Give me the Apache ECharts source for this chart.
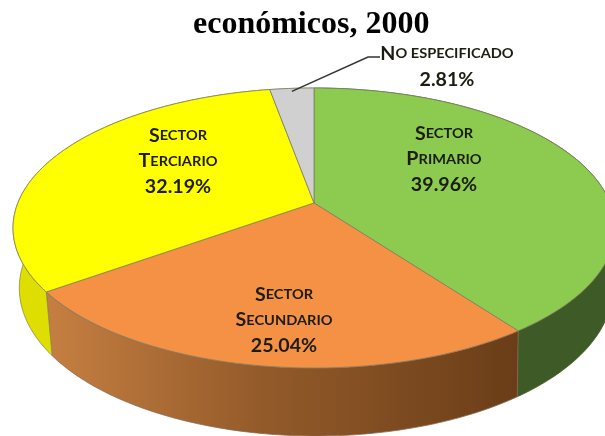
<!DOCTYPE html>
<html><head><meta charset="utf-8">
<style>html,body{margin:0;padding:0;background:#fff}#c{width:605px;height:436px}</style>
<script src="https://cdn.jsdelivr.net/npm/echarts@6/dist/echarts.min.js"></script>
</head><body><div id="c"></div>
<script>
// Data
const categories = ['Sector Primario','Sector Secundario','Sector Terciario','No especificado'];
const shares = [39.96, 25.04, 32.19, 2.81];
const titleText = 'económicos, 2000';

// Styling / layout
const topColors = ['#8CCB50','#F59145','#FFFF00','#D0D0D0'];
const wallColors = ['#3E5B27', null, '#DEDE00', '#A0A0A0'];
const labelAnchors = [[444,133],[284,294],[178,135],[447,53]];
const topRim = {cx:314, cy:228, rx:301, ry:140};
const lowRim = {cx:316, cy:288, rx:296.7, ry:148};
const persp = -0.179; // perspective of the disc

function proj(frac, e){
  const a = frac*2*Math.PI, u = Math.sin(a), v = -Math.cos(a);
  const d = 1 + persp*v;
  return [e.cx + e.rx*u*Math.sqrt(1-persp*persp)/d, e.cy + e.ry*(v+persp)/d];
}
function arc(f0,f1,e){
  const n = Math.max(2,Math.ceil((f1-f0)*240)), pts=[];
  for(let i=0;i<=n;i++) pts.push(proj(f0+(f1-f0)*i/n,e));
  return pts;
}
function smallCaps(t){
  return '{b|'+t[0].toUpperCase()+'}{s|'+t.slice(1).toUpperCase()+'}';
}
const ink = '#1c1c10';
const rich = {
  b:{fontFamily:'Lato',fontWeight:'bold',fontSize:18,fill:ink,color:ink},
  s:{fontFamily:'Lato',fontWeight:'bold',fontSize:13.4,fill:ink,color:ink},
  p:{fontFamily:'Lato',fontWeight:'bold',fontSize:18,fill:ink,color:ink}
};
const total = shares.reduce((s,v)=>s+v,0);
const starts = []; shares.reduce((s,v,i)=>(starts[i]=s,s+v),0);

const chart = echarts.init(document.getElementById('c'),null,{renderer:'canvas'});
chart.setOption({
  animation:false,
  backgroundColor:'#fff',
  title:{text:titleText,left:193,top:9,padding:0,
    textStyle:{fontFamily:'Liberation Serif',fontWeight:'bold',fontSize:32,color:'#000',lineHeight:32}},
  series:[{
    type:'custom',
    coordinateSystem:'none',
    clip:false,
    data:shares.map((v,i)=>({name:categories[i],value:v})),
    renderItem:function(params,api){
      const i = params.dataIndex;
      const f0 = starts[i]/total, f1 = (starts[i]+shares[i])/total;
      const rimT = arc(f0,f1,topRim), rimL = arc(f0,f1,lowRim);
      const apex = [topRim.cx, topRim.cy + topRim.ry*persp];
      const wallFill = i===1 ? {
          type:'linear',x:0,y:0,x2:1,y2:0,
          colorStops:[{offset:0,color:'#C67F42'},{offset:0.45,color:'#945B2A'},{offset:1,color:'#6A3D18'}]
        } : wallColors[i];
      const children = [
        {type:'polygon',z2:1,shape:{points:rimT.concat(rimL.slice().reverse())},
          style:{fill:wallFill,stroke:i===1?'#8a6a50':(i===2?'#8f8f40':wallColors[i]),lineWidth:0.8}},
        {type:'polygon',z2:10,shape:{points:[apex].concat(rimT)},
          style:{fill:topColors[i],stroke:'#7d7d60',lineWidth:0.8}}
      ];
      const pos = labelAnchors[i];
      const words = categories[i].split(' ');
      const lines = i===3 ? [smallCaps(categories[i])]
        : [smallCaps(words[0]),smallCaps(words[1])];
      lines.push('{p|'+shares[i].toFixed(2)+'%}');
      children.push({type:'text',z2:30,x:pos[0],y:pos[1]-12,scaleX:1.09,
        style:{text:lines.join('\n'),rich:rich,align:'center',verticalAlign:'top',
          lineHeight:i===3?26:25.5,fontFamily:'Lato',fill:ink}});
      if(i===3){
        const m = proj((f0+f1)/2,topRim);
        children.push({type:'polyline',z2:20,
          shape:{points:[[m[0],m[1]+3],[368,57],[380,57]]},
          style:{fill:null,stroke:'#333',lineWidth:1.4}});
      }
      return {type:'group',children:children};
    }
  }]
});
</script></body></html>
